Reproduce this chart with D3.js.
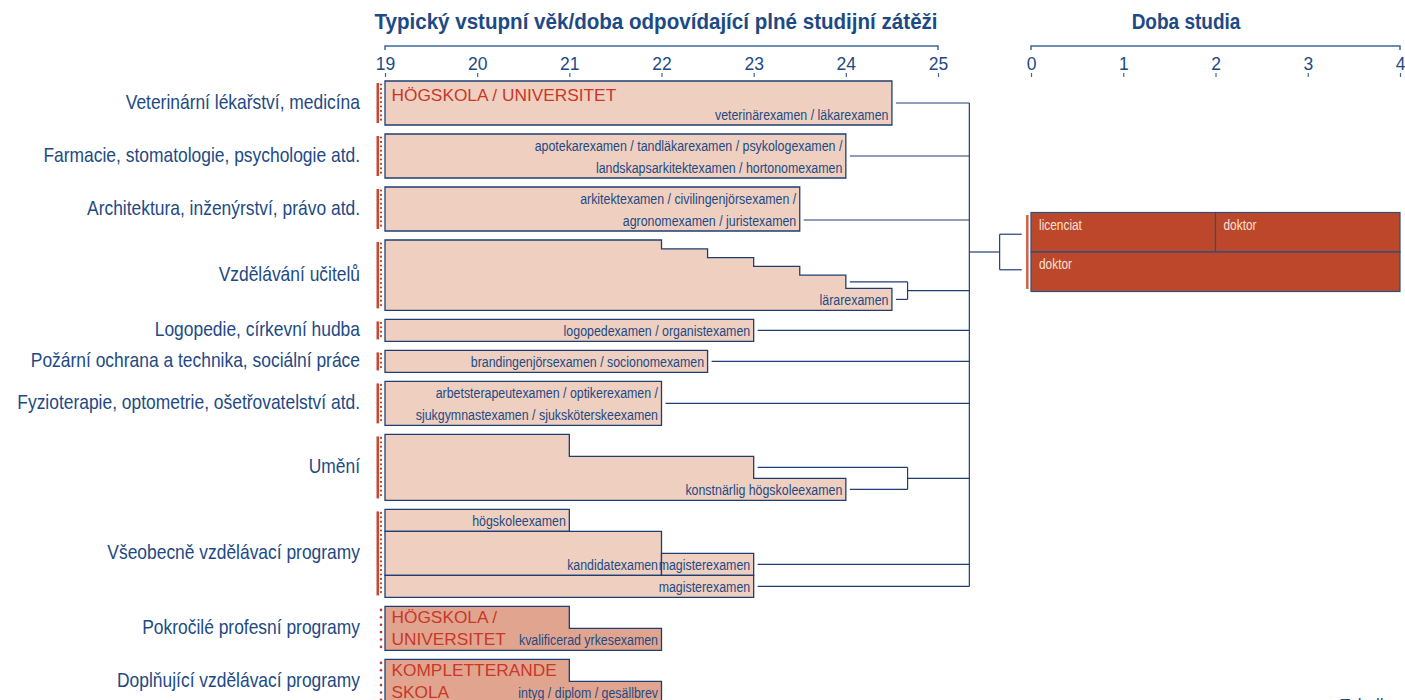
<!DOCTYPE html>
<html><head><meta charset="utf-8">
<script src="https://cdn.jsdelivr.net/npm/d3@7"></script>
<style>html,body{margin:0;padding:0;background:#fff;overflow:hidden}svg{display:block}</style>
</head><body>
<svg id="chart" width="1405" height="700"></svg>
<script>
// ---------- DATA ----------
const titleMain = "Typický vstupní věk/doba odpovídající plné studijní zátěži";
const titleRight = "Doba studia";
const ageTicks = [19, 20, 21, 22, 23, 24, 25];
const durationTicks = [0, 1, 2, 3, 4];

const categories = [
  "Veterinární lékařství, medicína",
  "Farmacie, stomatologie, psychologie atd.",
  "Architektura, inženýrství, právo atd.",
  "Vzdělávání učitelů",
  "Logopedie, církevní hudba",
  "Požární ochrana a technika, sociální práce",
  "Fyzioterapie, optometrie, ošetřovatelství atd.",
  "Umění",
  "Všeobecně vzdělávací programy",
  "Pokročilé profesní programy",
  "Doplňující vzdělávací programy"
];

// each bar shape: row, starting age, ending ages of its successive steps
const shapeRow   = [0, 1, 2, 3, 4, 5, 6, 7, 8, 8, 8, 8, 9, 10];
const shapeStart = [19, 19, 19, 19, 19, 19, 19, 19, 19, 19, 22, 19, 19, 19];
const shapeEnds  = [[24.5], [24], [23.5], [22, 22.5, 23, 23.5, 24, 24.5], [23], [22.5], [22],
                    [21, 23, 24], [21], [22], [23], [23], [21, 22], [21, 22]];
const shapeLabels = [
  "veterinärexamen / läkarexamen",
  "apotekarexamen / tandläkarexamen / psykologexamen /|landskapsarkitektexamen / hortonomexamen",
  "arkitektexamen / civilingenjörsexamen /|agronomexamen / juristexamen",
  "lärarexamen",
  "logopedexamen / organistexamen",
  "brandingenjörsexamen / socionomexamen",
  "arbetsterapeutexamen / optikerexamen /|sjukgymnastexamen / sjuksköterskeexamen",
  "konstnärlig högskoleexamen",
  "högskoleexamen", "kandidatexamen", "magisterexamen", "magisterexamen",
  "kvalificerad yrkesexamen",
  "intyg / diplom / gesällbrev"
];

const schoolRows   = [0, 9, 10];
const schoolLabels = ["HÖGSKOLA / UNIVERSITET", "HÖGSKOLA /|UNIVERSITET", "KOMPLETTERANDE|SKOLA"];

// links to doctoral studies: [shape, step]; grouped pairs share a sub-bracket
const linkShape = [0, 1, 2, 3, 3, 4, 5, 6, 7, 7, 10, 11];
const linkStep  = [0, 0, 0, 4, 5, 0, 0, 0, 1, 2, 0, 0];
const linkGroup = [0, 1, 2, 3, 3, 4, 5, 6, 7, 7, 8, 9];

// doctoral studies (years)
const phdStart  = [0, 2, 0];
const phdEnd    = [2, 4, 4];
const phdLane   = [0, 0, 1];
const phdLabels = ["licenciat", "doktor", "doktor"];

// ---------- LAYOUT (sizes, not data) ----------
const rowUnits   = [2, 2, 2, 3.2, 1, 1, 2, 3, 4, 2, 2];
const stepUnits  = [[2], [2], [2], [0.4, 0.4, 0.4, 0.4, 0.6, 1], [1], [1], [2], [1, 1, 1],
                    [1], [2], [1], [1], [1, 1], [1, 1]];
const shapeOffset = [0, 0, 0, 0, 0, 0, 0, 0, 0, 1, 2, 3, 0, 0];
const linkAttach  = [0.5, 0.5, 0.75, 0.5, 0.5, 0.5, 0.5, 0.5, 0.5, 0.5, 0.5, 0.5]; // fraction of step height
const darkRows = [9, 10];
const solidMarkerRows = [0, 1, 2, 3, 4, 5, 6, 7, 8];

const BLUE = "#1d4a85", NAVY = "#1f3f74", AXIS = "#3d6799";
const FILL = "#efcfbf", FILL_DARK = "#e1a58f", RED = "#c8372a", PHD = "#bd472a";
const SANS = "'Liberation Sans',Arial,sans-serif";
const NARROW = 0.82;   // horizontal condensing of Liberation Sans (Arial Narrow look)

const svg = d3.select("#chart");
const x  = d3.scaleLinear().domain([19, 25]).range([385, 938]);
const xr = d3.scaleLinear().domain([0, 4]).range([1031, 1400]);
const UNIT = 22, GAP = 9;
const y  = d3.scaleLinear().domain([0, 1]).range([81, 81 + UNIT]);
const yr = d3.scaleLinear().domain([0, 2]).range([212.5, 291.5]);

const rowTopU = [];
{ let c = 0; rowUnits.forEach(u => { rowTopU.push(c); c += u + GAP / UNIT; }); }

// condensed text helper
function ntext(g, px, py, str, o) {
  return g.append("text")
    .attr("transform", `translate(${px},${py}) scale(${o.sx || NARROW},1)`)
    .attr("text-anchor", o.anchor || "start")
    .attr("font-family", SANS).attr("font-size", o.size)
    .attr("font-weight", o.weight || "normal").attr("font-style", o.style || "normal")
    .attr("fill", o.fill || BLUE).text(str);
}

// ---------- TITLES ----------
ntext(svg, 656, 29, titleMain, { anchor: "middle", size: 22.5, weight: "bold", sx: 0.915 });
ntext(svg, 1186, 29, titleRight, { anchor: "middle", size: 22.5, weight: "bold", sx: 0.845 });

// ---------- AXES ----------
function drawAxis(scale, ticks) {
  const [a, b] = scale.range();
  svg.append("path").attr("d", `M${a},50V46H${b}V50`).attr("fill", "none")
    .attr("stroke", AXIS).attr("stroke-width", 1.5);
  const g = svg.append("g").attr("transform", "translate(0,77)")
    .call(d3.axisTop(scale).tickValues(ticks).tickFormat(d3.format("d")).tickSize(4).tickPadding(3));
  g.select(".domain").remove();
  g.selectAll(".tick line").attr("stroke", AXIS).attr("stroke-width", 1.2);
  g.selectAll(".tick text").attr("fill", BLUE).attr("font-family", SANS).attr("font-size", 17.5);
}
drawAxis(x, ageTicks);
drawAxis(xr, durationTicks);

// ---------- CATEGORY LABELS ----------
const catG = svg.append("g");
categories.forEach((c, i) => {
  ntext(catG, 360, y(rowTopU[i] + rowUnits[i] / 2) + 5.5, c, { anchor: "end", size: 20.5, sx: 0.85 });
});

// ---------- ROW MARKERS ----------
const markers = svg.append("g");
categories.forEach((c, i) => {
  const t = y(rowTopU[i]), b = y(rowTopU[i] + rowUnits[i]);
  const solid = solidMarkerRows.includes(i);
  if (solid) markers.append("rect").attr("x", 376.5).attr("y", t + 2).attr("width", 2.6)
    .attr("height", b - t - 4).attr("fill", "#c9492f");
  const step = solid ? 4.4 : 7.4;
  const dots = d3.range(t + 3.5, b - 1.5, step);
  markers.selectAll(null).data(dots).join("circle").attr("cx", 381).attr("cy", d => d)
    .attr("r", solid ? 1.1 : 1.3).attr("fill", "#c0392b");
});

// ---------- BARS ----------
const shapes = shapeRow.map((r, s) => {
  const topU = rowTopU[r] + shapeOffset[s];
  const cum = [0]; stepUnits[s].forEach(h => cum.push(cum[cum.length - 1] + h));
  return { s, r, topU, cum, start: shapeStart[s], ends: shapeEnds[s] };
});
const bars = svg.append("g");
shapes.forEach(sh => {
  const p = d3.path();
  p.moveTo(x(sh.start), y(sh.topU));
  sh.ends.forEach((e, k) => { p.lineTo(x(e), y(sh.topU + sh.cum[k])); p.lineTo(x(e), y(sh.topU + sh.cum[k + 1])); });
  p.lineTo(x(sh.start), y(sh.topU + sh.cum[sh.cum.length - 1]));
  p.closePath();
  bars.append("path").attr("d", p.toString())
    .attr("fill", darkRows.includes(sh.r) ? FILL_DARK : FILL)
    .attr("stroke", NAVY).attr("stroke-width", 1.3).attr("stroke-linejoin", "miter");
});

// bar labels
shapes.forEach(sh => {
  const lines = shapeLabels[sh.s].split("|");
  const n = lines.length, k = sh.ends.length - 1;
  const bottomU = sh.topU + sh.cum[k + 1];
  lines.forEach((ln, i) => {
    ntext(bars, x(sh.ends[k]) - 3.5, y(bottomU - (n - i - 0.5)) + 5.5, ln,
      { anchor: "end", size: 15.5, sx: 0.8 });
  });
});

// school labels
schoolRows.forEach((r, j) => {
  schoolLabels[j].split("|").forEach((ln, i) => {
    bars.append("text").attr("x", x(19) + 6.5)
      .attr("y", y(rowTopU[r] + i + 0.5) + 5.5 + (r === 0 ? 3.5 : 0))
      .attr("font-family", SANS).attr("font-size", 17.3).attr("fill", RED).text(ln);
  });
});

// ---------- CONNECTORS ----------
const links = svg.append("g").attr("fill", "none").attr("stroke", NAVY).attr("stroke-width", 1.2);
const mainX = x(25.34), subX = x(24.67);
const groupY = [];
d3.groups(linkShape.map((s, i) => ({ s, st: linkStep[i], g: linkGroup[i], f: linkAttach[i] })), d => d.g)
  .forEach(([g, arr]) => {
  const pts = arr.map(d => {
    const sh = shapes[d.s];
    const cy = y(sh.topU + sh.cum[d.st] + (sh.cum[d.st + 1] - sh.cum[d.st]) * d.f);
    return { x: x(sh.ends[d.st]) + 4, y: cy };
  });
  if (pts.length === 1) {
    links.append("line").attr("x1", pts[0].x).attr("x2", mainX).attr("y1", pts[0].y).attr("y2", pts[0].y);
    groupY.push(pts[0].y);
  } else {
    pts.forEach(p => links.append("line").attr("x1", p.x).attr("x2", subX).attr("y1", p.y).attr("y2", p.y));
    const y0 = d3.min(pts, p => p.y), y1 = d3.max(pts, p => p.y), ym = (y0 + y1) / 2;
    links.append("line").attr("x1", subX).attr("x2", subX).attr("y1", y0).attr("y2", y1);
    links.append("line").attr("x1", subX).attr("x2", mainX).attr("y1", ym).attr("y2", ym);
    groupY.push(ym);
  }
});
links.append("line").attr("x1", mainX).attr("x2", mainX).attr("y1", d3.min(groupY)).attr("y2", d3.max(groupY));
const phdMid = yr(1), rbX = xr(-0.34), rStub = xr(-0.1);
links.append("line").attr("x1", mainX).attr("x2", rbX).attr("y1", phdMid).attr("y2", phdMid);
links.append("line").attr("x1", rbX).attr("x2", rbX).attr("y1", yr(0.55)).attr("y2", yr(1.45));
[0.55, 1.45].forEach(v => links.append("line").attr("x1", rbX).attr("x2", rStub).attr("y1", yr(v)).attr("y2", yr(v)));

// ---------- DOCTORAL PANEL ----------
const phd = svg.append("g");
phd.append("rect").attr("x", xr(0) - 5).attr("y", yr(0) + 2.5).attr("width", 2.6)
  .attr("height", yr(2) - yr(0) - 5).attr("fill", "#d4654f");
phd.selectAll("rect.b").data(phdLabels).join("rect").attr("class", "b")
  .attr("x", (d, i) => xr(phdStart[i])).attr("y", (d, i) => yr(phdLane[i]))
  .attr("width", (d, i) => xr(phdEnd[i]) - xr(phdStart[i])).attr("height", yr(1) - yr(0))
  .attr("fill", PHD).attr("stroke", "#2a4f82").attr("stroke-width", 1.2);
phdLabels.forEach((d, i) => {
  ntext(phd, xr(phdStart[i]) + 8, yr(phdLane[i]) + 17, d, { size: 14.5, fill: "#f7e2d8" });
});

// corner caption (mostly outside the picture in the reference)
ntext(svg, 1339, 713, "Tabulka", { size: 20, style: "italic" });
</script>
</body></html>
